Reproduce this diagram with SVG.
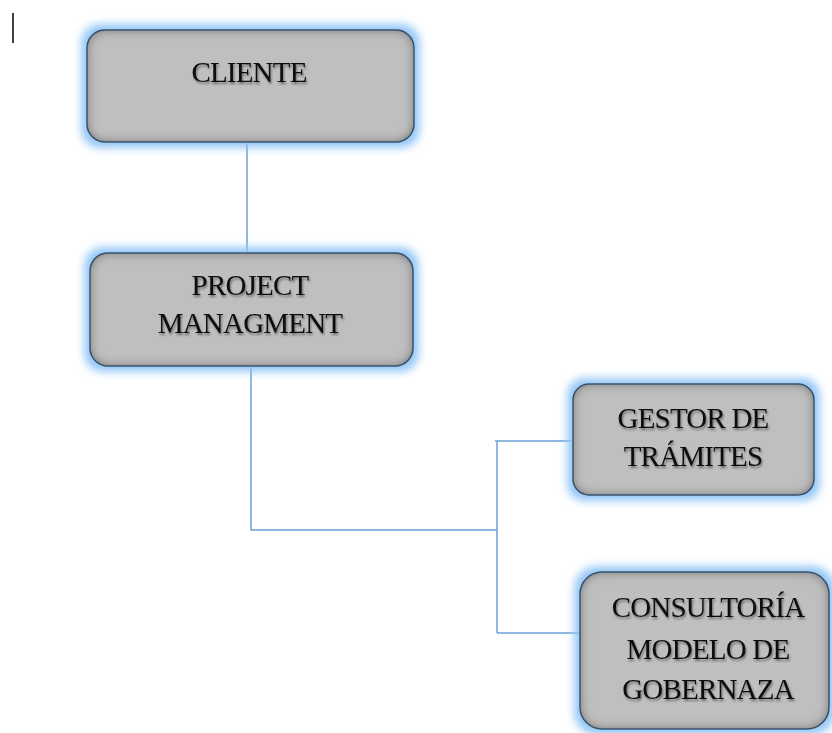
<svg xmlns="http://www.w3.org/2000/svg" width="832" height="733" viewBox="0 0 832 733">
<defs>
  <filter id="boxfx" x="-20%" y="-30%" width="140%" height="160%">
    <feMorphology in="SourceAlpha" operator="dilate" radius="5" result="d"/>
    <feGaussianBlur in="d" stdDeviation="4" result="db"/>
    <feFlood flood-color="#93c6f6" result="c"/>
    <feComposite in="c" in2="db" operator="in" result="glow"/>
    <feGaussianBlur in="SourceAlpha" stdDeviation="6" result="ib"/>
    <feComposite in="SourceAlpha" in2="ib" operator="out" result="inv"/>
    <feFlood flood-color="#000000" flood-opacity="0.9" result="k"/>
    <feComposite in="k" in2="inv" operator="in" result="ish"/>
    <feMerge>
      <feMergeNode in="glow"/>
      <feMergeNode in="SourceGraphic"/>
      <feMergeNode in="ish"/>
    </feMerge>
  </filter>
  <filter id="txtfx" x="-10%" y="-30%" width="120%" height="160%">
    <feGaussianBlur in="SourceAlpha" stdDeviation="1" result="b"/>
    <feOffset in="b" dx="1" dy="1.5" result="o"/>
    <feFlood flood-color="#000" flood-opacity="0.45"/>
    <feComposite in2="o" operator="in" result="s"/>
    <feMerge><feMergeNode in="s"/><feMergeNode in="SourceGraphic"/></feMerge>
  </filter>
</defs>
<style>
  .box { fill: #bfbfbf; stroke: #4a6c8c; stroke-width: 1.5; filter: url(#boxfx); }
  .lbl { font-family: "Liberation Serif", "Times New Roman", serif; font-size: 29px; letter-spacing: -0.8px; fill: #111; text-anchor: middle; filter: url(#txtfx); }
  .conn { fill: none; stroke: #6a9fd6; stroke-width: 1.5; }
</style>
<rect width="832" height="733" fill="#ffffff"/>
<line x1="13" y1="13" x2="13" y2="43" stroke="#000" stroke-width="1.5"/>

<g id="connectors">
  <path class="conn" d="M247 143 V253"/>
  <path class="conn" d="M251 366 V530 H497"/>
  <path class="conn" d="M497 441 V633"/>
  <path class="conn" d="M495 441 H573"/>
  <path class="conn" d="M497 633 H580"/>
</g>

<g id="cliente">
  <rect class="box" x="87" y="30" width="327" height="112" rx="18"/>
  <text class="lbl" x="249" y="82">CLIENTE</text>
</g>

<g id="project">
  <rect class="box" x="90" y="253" width="323" height="113" rx="18"/>
  <text class="lbl" x="250" y="295">PROJECT</text>
  <text class="lbl" x="250" y="333">MANAGMENT</text>
</g>

<g id="gestor">
  <rect class="box" x="573" y="384" width="241" height="111" rx="16"/>
  <text class="lbl" x="693" y="428">GESTOR DE</text>
  <text class="lbl" x="693" y="466">TRÁMITES</text>
</g>

<g id="consultoria">
  <rect class="box" x="580" y="572" width="249" height="157" rx="22"/>
  <text class="lbl" x="708" y="617">CONSULTORÍA</text>
  <text class="lbl" x="708" y="659">MODELO DE</text>
  <text class="lbl" x="708" y="699">GOBERNAZA</text>
</g>
</svg>
